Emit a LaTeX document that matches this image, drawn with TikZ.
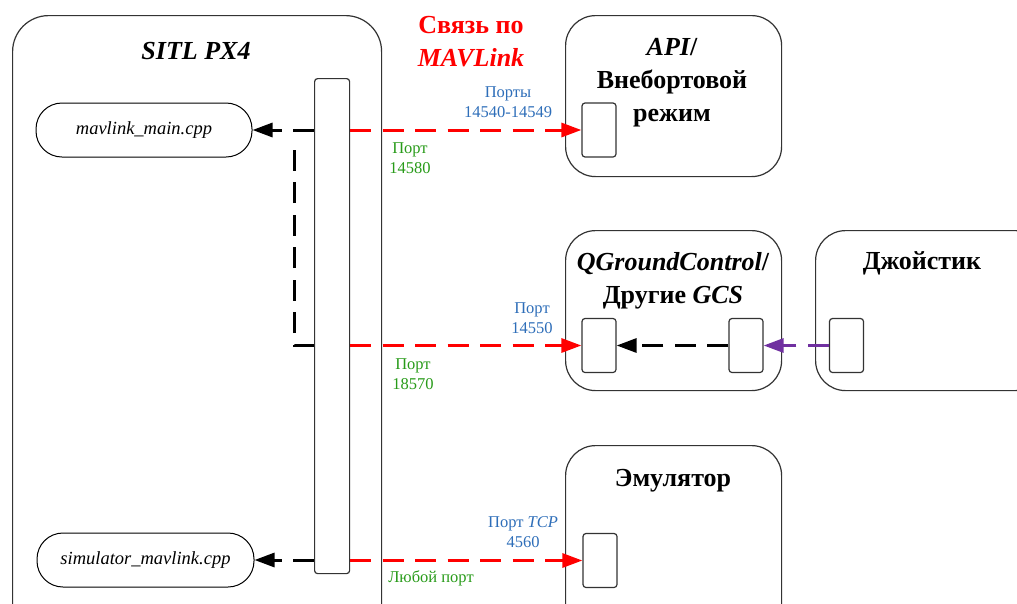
\documentclass[tikz,border=0pt]{standalone}
\usepackage{fontspec}
\setmainfont{Liberation Serif}
\usetikzlibrary{arrows.meta,calc}
\definecolor{lblue}{RGB}{46,110,185}
\definecolor{lgreen}{RGB}{40,155,25}
\definecolor{lpurple}{RGB}{112,48,160}
\begin{document}
\begin{tikzpicture}[x=1pt,y=-1pt,
  bigbox/.style={draw=black!80, line width=1.2pt, rounded corners=30pt, inner sep=0pt, anchor=north west},
  portbox/.style={draw=black!80, line width=1.2pt, rounded corners=3pt, inner sep=0pt, minimum width=34pt, minimum height=54pt},
  filebox/.style={draw=black, line width=1pt, rounded corners=26pt, inner sep=0pt, minimum width=216pt, minimum height=54pt, font=\fontsize{18.5}{22}\selectfont\itshape},
  barbox/.style={draw=black!80, line width=1.2pt, rounded corners=3pt, inner sep=0pt, anchor=north west, minimum width=35pt, minimum height=495pt},
  ttl/.style={font=\fontsize{26}{33}\selectfont\bfseries, align=center, inner sep=0pt},
  lbl/.style={font=\fontsize{16.5}{20}\selectfont, align=center, inner sep=0pt},
  redarr/.style={draw=red, line width=3pt, dash pattern=on 21pt off 11.5pt, -{Triangle[length=20pt,width=14pt]}},
  blkarr/.style={draw=black, line width=3pt, dash pattern=on 21pt off 11.5pt, -{Triangle[length=20pt,width=14pt]}},
  blkline/.style={draw=black, line width=3pt, dash pattern=on 21pt off 11.5pt},
  purarr/.style={draw=lpurple, line width=3pt, dash pattern=on 21pt off 11.5pt, -{Triangle[length=20pt,width=14pt]}}
]
\useasboundingbox (0,0) rectangle (1017,603);
\fill[white] (0,0) rectangle (1017,603);

% big boxes
\node[bigbox, rounded corners=36pt, minimum width=369pt, minimum height=630pt] (sitl) at (12,15) {};
\node[bigbox, minimum width=216pt, minimum height=161pt] (api) at (565,15) {};
\node[bigbox, minimum width=216pt, minimum height=160pt] (qgc) at (565,230) {};
\node[bigbox, minimum width=230pt, minimum height=160pt] (joy) at (815,230) {};
\node[bigbox, minimum width=216pt, minimum height=190pt] (emu) at (565,445) {};

% titles
\node[ttl] (sitlt) at (196,51) {\itshape SITL PX4};
\node[ttl, text=red] (mavt) at (471,42) {Связь по\\\itshape MAVLink};
\node[ttl] (apit) at (672,83) {\itshape API\upshape/\\Внебортовой\\режим};
\node[ttl] (qgct) at (673,281) {\itshape QGroundControl\upshape/\\Другие \itshape GCS};
\node[ttl] (joyt) at (922,263) {Джойстик};
\node[ttl] (emut) at (673,481) {Эмулятор};

% bar and file boxes
\node[barbox] (bar) at (314,78) {};
\node[filebox] (mm) at (144,130) {mavlink\_main.cpp};
\node[filebox, minimum width=217pt] (sm) at (145.5,560) {simulator\_mavlink.cpp};

% ports
\node[portbox] (ap) at (599,130) {};
\node[portbox] (qp1) at (599,345.5) {};
\node[portbox] (qp2) at (746,345.5) {};
\node[portbox] (jp) at (846.5,345.5) {};
\node[portbox] (ep) at (600,560.5) {};

% connectors
\draw[blkarr] (bar.west |- mm.east) -- (mm.east);
\draw[blkline] (bar.west |- qp1.west) -- ++(-20,0) -- ($(bar.west |- mm.east)+(-20,10)$);
\draw[blkarr] (bar.west |- sm.east) -- (sm.east);
\draw[redarr] (bar.east |- ap.west) -- (ap.west);
\draw[redarr] (bar.east |- qp1.west) -- (qp1.west);
\draw[redarr] (bar.east |- ep.west) -- (ep.west);
\draw[blkarr] (qp2.west) -- (qp1.east);
\draw[purarr] (jp.west) -- (qp2.east);

% labels
\node[lbl, text=lblue] (l1) at (508,102) {Порты\\14540-14549};
\node[lbl, text=lgreen] (l2) at (410,158) {Порт\\14580};
\node[lbl, text=lblue] (l3) at (532,318) {Порт\\14550};
\node[lbl, text=lgreen] (l4) at (413,374) {Порт\\18570};
\node[lbl, text=lblue] (l5) at (523,532) {Порт \itshape TCP\\4560};
\node[lbl, text=lgreen] (l6) at (431,578) {Любой порт};
\end{tikzpicture}
\end{document}
